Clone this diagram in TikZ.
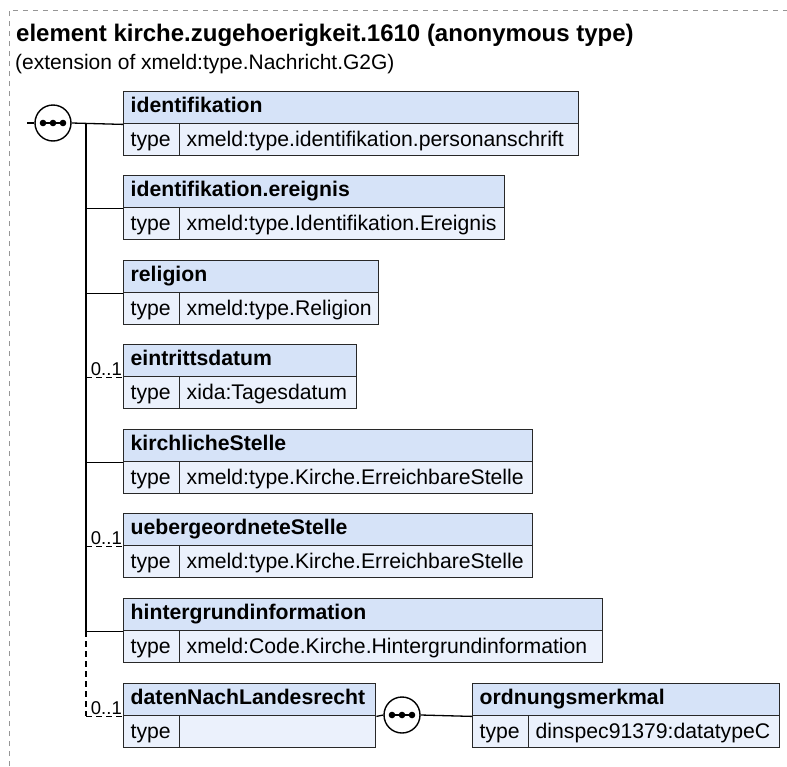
\documentclass[tikz,border=0pt]{standalone}
\usepackage{fontspec}
\setmainfont{Liberation Sans}
\definecolor{hdrfill}{RGB}{214,227,248}
\definecolor{typfill}{RGB}{235,241,252}
\definecolor{bordc}{RGB}{40,40,40}
\definecolor{framec}{RGB}{150,150,150}
\tikzset{
 cell/.style={draw=bordc, line width=1.4pt, inner ysep=0pt, inner xsep=7pt, anchor=north west, minimum height=32pt, align=left},
 hdr/.style={cell, fill=hdrfill, font=\fontsize{21.2}{24}\selectfont\bfseries, text height=14.5pt, text depth=4pt},
 typ/.style={cell, fill=typfill, font=\fontsize{21.2}{24}\selectfont, text height=16pt, text depth=3pt},
 conn/.style={line width=1.3pt, draw=black},
 opt/.style={conn, dash pattern=on 6pt off 4pt},
 mult/.style={font=\fontsize{18.5}{20}\selectfont, inner sep=0pt, anchor=base east},
 seqc/.style={circle, draw=black, fill=white, line width=1.4pt, minimum size=36pt, inner sep=0pt},
}
\newcommand\xsdbox[6]{%
  \pgfmathsetmacro\xw{#4-#2}%
  \pgfmathsetmacro\xtw{#4-#2-14}%
  \pgfmathsetmacro\xvw{#4-#2-56}%
  \pgfmathsetmacro\xvtw{#4-#2-70}%
  \node[hdr, minimum width=\xw pt, text width=\xtw pt] (#1) at (#2,#3) {#5};
  \node[typ, minimum width=56pt, text width=42pt] (#1t) at (#2,#3+32) {type};
  \node[typ, minimum width=\xvw pt, text width=\xvtw pt] (#1v) at (#2+56,#3+32) {#6};
}
\newcommand\seqdots[1]{%
  \draw[line width=2pt] ([xshift=-12pt]#1.center) -- ([xshift=12pt]#1.center);
  \fill ([xshift=-10pt]#1.center) circle (3.3pt);
  \fill (#1.center) circle (3.3pt);
  \fill ([xshift=10pt]#1.center) circle (3.3pt);
}
\begin{document}
\begin{tikzpicture}[x=1pt,y=-1pt]
\useasboundingbox (0,0) rectangle (787,766);
\draw[framec, line width=1pt, dash pattern=on 5pt off 5pt] (9,766) -- (9,10) -- (787,10);
\node[anchor=base west, inner sep=0pt, font=\fontsize{24}{28}\selectfont\bfseries] (title) at (16,41) {element kirche.zugehoerigkeit.1610 (anonymous type)};
\node[anchor=base west, inner sep=0pt, font=\fontsize{21}{24}\selectfont] (sub) at (15,69) {(extension of xmeld:type.Nachricht.G2G)};

\xsdbox{b1}{123}{91}{578}{identifikation}{xmeld:type.identifikation.personanschrift}
\xsdbox{b2}{123}{175}{504}{identifikation.ereignis}{xmeld:type.Identifikation.Ereignis}
\xsdbox{b3}{123}{260}{378}{religion}{xmeld:type.Religion}
\xsdbox{b4}{123}{344}{356}{eintrittsdatum}{xida:Tagesdatum}
\xsdbox{b5}{123}{429}{532}{kirchlicheStelle}{xmeld:type.Kirche.ErreichbareStelle}
\xsdbox{b6}{123}{513}{532}{uebergeordneteStelle}{xmeld:type.Kirche.ErreichbareStelle}
\xsdbox{b7}{123}{598}{602}{hintergrundinformation}{xmeld:Code.Kirche.Hintergrundinformation}
\xsdbox{b8}{123}{683}{375}{datenNachLandesrecht}{}
\xsdbox{b9}{472}{683}{779}{ordnungsmerkmal}{dinspec91379:datatypeC}

% sequence 1
\coordinate (stub) at (27,123);
\node[seqc] (seq1) at (53,123) {};
\coordinate (trtop) at (86,123);
\draw[conn] (stub) -- (seq1.west);
\draw[conn] (seq1.east) -- (b1.south west);
\draw[conn] (trtop) -- (b7.south west -| trtop);
\draw[opt] (b7.south west -| trtop) -- (b8.south west -| trtop);
\draw[conn] (b2.south west -| trtop) -- (b2.south west);
\draw[conn] (b3.south west -| trtop) -- (b3.south west);
\draw[opt] (b4.south west -| trtop) -- (b4.south west);
\draw[conn] (b5.south west -| trtop) -- (b5.south west);
\draw[opt] (b6.south west -| trtop) -- (b6.south west);
\draw[conn] (b7.south west -| trtop) -- (b7.south west);
\draw[opt] (b8.south west -| trtop) -- (b8.south west);
\node[mult] (m4) at ([xshift=-1pt,yshift=2pt]b4.south west) {0..1};
\node[mult] (m6) at ([xshift=-1pt,yshift=2pt]b6.south west) {0..1};
\node[mult] (m8) at ([xshift=-1pt,yshift=2pt]b8.south west) {0..1};
\seqdots{seq1}

% sequence 2
\node[seqc] (seq2) at (402,715) {};
\draw[conn] (b8.south east) -- (seq2.west);
\draw[conn] (seq2.east) -- (b9.south west);
\seqdots{seq2}
\end{tikzpicture}
\end{document}
